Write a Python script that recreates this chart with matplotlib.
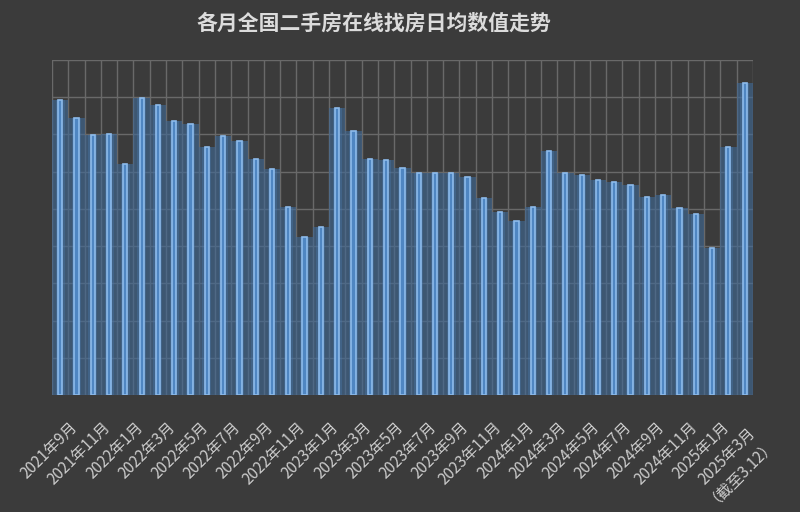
import matplotlib

matplotlib.use("Agg")
import matplotlib.pyplot as plt
import matplotlib.transforms as mtransforms
import numpy as np

plt.rcParams["font.family"] = ["Noto Sans CJK SC", "DejaVu Sans"]

# months 2021-9 .. 2025-3 (last one up to 3.12)
months = []
for y in range(2021, 2026):
    for m in range(1, 13):
        if (y == 2021 and m < 9) or (y == 2025 and m > 3):
            continue
        months.append((y, m))

values = [7.91, 7.43, 6.99, 7.00, 6.20, 7.97, 7.79, 7.36, 7.29, 6.67,
          6.96, 6.82, 6.35, 6.08, 5.06, 4.24, 4.50, 7.71, 7.09, 6.34,
          6.30, 6.11, 5.96, 5.96, 5.95, 5.86, 5.28, 4.91, 4.68, 5.04,
          6.54, 5.96, 5.92, 5.78, 5.73, 5.63, 5.33, 5.36, 5.02, 4.85,
          3.96, 6.67, 8.37]

tick_labels = [f"{y}年{m}月" for (y, m) in months]
tick_labels[-1] = "2025年3月\n（截至3.12）"

BG = "#3b3b3b"
GRID = "#696969"
TEXT = "#cccccc"

fig = plt.figure(figsize=(8, 5.12), dpi=100, facecolor=BG)
ax = fig.add_axes([0.065, 0.2285, 0.876, 0.6545], facecolor=BG)

x = np.arange(len(values))

# grid: vertical lines between months, horizontal every unit
for b in np.arange(-0.5, len(values), 1.0):
    ax.axvline(b, color=GRID, lw=1.0, zorder=0)
for h in range(0, 10):
    ax.axhline(h, color=GRID, lw=1.0, zorder=0)

# soft blue glow under each bar
ax.bar(x, values, width=1.0, color="#3f6a98", alpha=0.6, lw=0, zorder=1)
ax.bar(x, values, width=0.55, color="#4a7bb0", alpha=0.35, lw=0, zorder=2)
# the bars themselves
ax.bar(x, values, width=0.26, color="#4f86c2", edgecolor="#8dbbec",
       lw=1.2, zorder=3)

ax.set_xlim(-0.5, len(values) - 0.5)
ax.set_ylim(0, 9)
ax.set_yticks([])
for s in ax.spines.values():
    s.set_visible(False)

ax.set_xticks(x[::2])
ax.set_xticklabels(tick_labels[::2], rotation=45, ha="right", va="top",
                   rotation_mode="anchor", color=TEXT, fontsize=11,
                   multialignment="center", linespacing=0.85)
ax.tick_params(axis="x", length=0, pad=17)
shift = mtransforms.ScaledTranslation(9 / 100, 0, fig.dpi_scale_trans)
for lab in ax.get_xticklabels():
    lab.set_transform(lab.get_transform() + shift)

fig.text(0.467, 0.955, "各月全国二手房在线找房日均数值走势", ha="center",
         va="center", color="#dcdcdc", fontsize=15, fontweight="bold")

fig.savefig("out.png", dpi=100, facecolor=BG)
